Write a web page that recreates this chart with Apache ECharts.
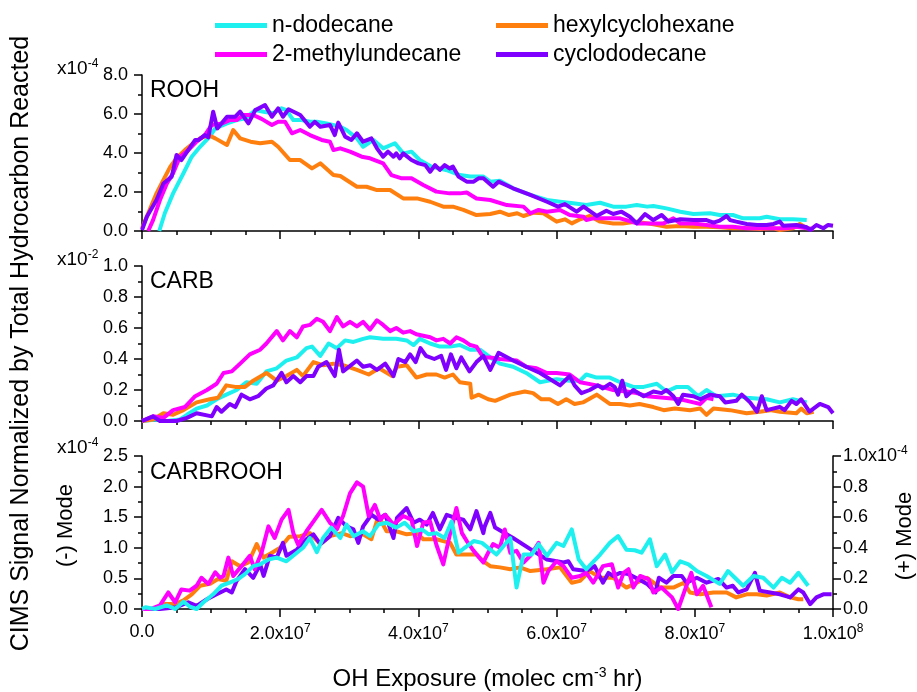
<!DOCTYPE html>
<html>
<head>
<meta charset="utf-8">
<script src="https://cdn.jsdelivr.net/npm/echarts@6/dist/echarts.min.js"></script>
<style>
html, body { margin: 0; padding: 0; background: #fff; }
#chart { width: 917px; height: 692px; }
</style>
</head>
<body>
<div id="chart"></div>
<script>
// x values are OH exposure in units of 1e7 molec cm-3 hr
// ROOH panel (x10^-4)
const roohDodecane = [[0.25,0],[0.33,0.91],[0.45,1.93],[0.6,2.96],[0.72,3.81],[0.84,4.32],[0.98,4.84],[1.06,5.26],[1.23,5.52],[1.37,5.69],[1.5,5.78],[1.64,6.2],[1.76,6.12],[1.9,6.04],[2.02,6.29],[2.09,6.2],[2.19,5.69],[2.31,5.69],[2.43,5.6],[2.53,5.6],[2.67,5.52],[2.87,5.35],[2.96,5.18],[3.11,4.75],[3.2,4.32],[3.35,4.67],[3.49,4.24],[3.66,4.5],[3.78,3.98],[3.9,4.07],[4.02,3.64],[4.19,3.3],[4.4,3.13],[4.6,2.87],[4.75,2.79],[4.94,2.79],[5.04,2.53],[5.18,2.58],[5.37,2.19],[5.62,1.85],[5.86,1.59],[6.05,1.5],[6.24,1.42],[6.43,1.33],[6.63,1.45],[6.82,1.25],[7.01,1.25],[7.16,1.33],[7.31,1.25],[7.4,1.28],[7.59,1.16],[7.79,0.99],[7.98,0.87],[8.22,0.91],[8.36,0.82],[8.55,0.82],[8.7,0.65],[8.94,0.65],[9.04,0.73],[9.23,0.6],[9.42,0.6],[9.62,0.56]];
const roohHexyl = [[0,0.14],[0.09,0.91],[0.21,1.93],[0.31,2.62],[0.41,3.3],[0.5,3.73],[0.62,4.15],[0.74,4.5],[0.84,4.75],[0.96,4.92],[1.06,4.75],[1.23,4.41],[1.32,5.18],[1.42,4.75],[1.57,4.58],[1.71,4.5],[1.88,4.58],[1.97,4.32],[2.14,3.64],[2.29,3.64],[2.46,3.21],[2.58,3.47],[2.77,2.87],[2.87,2.82],[3.11,2.27],[3.25,2.27],[3.4,2.1],[3.59,2.1],[3.78,1.67],[3.98,1.67],[4.17,1.5],[4.36,1.25],[4.5,1.25],[4.65,1.08],[4.84,0.82],[5.04,0.87],[5.18,0.99],[5.31,0.82],[5.43,0.91],[5.52,0.77],[5.67,0.94],[5.81,0.91],[6.0,0.48],[6.12,0.6],[6.22,0.39],[6.34,0.6],[6.48,0.77],[6.63,0.48],[6.82,0.39],[6.96,0.39],[7.16,0.48],[7.4,0.34],[7.59,0.22],[7.79,0.26],[7.98,0.22],[8.17,0.22],[8.36,0.19],[8.55,0.14],[8.75,0.14],[8.94,0.1],[9.14,0.14],[9.23,0.05],[9.42,0.14],[9.52,0.36],[9.62,0.14]];
const roohMethyl = [[0.09,0],[0.16,0.56],[0.26,1.59],[0.36,2.44],[0.45,2.96],[0.55,3.81],[0.67,4.15],[0.79,4.58],[0.91,4.92],[1.01,5.44],[1.16,5.52],[1.27,5.69],[1.37,5.69],[1.47,5.95],[1.61,5.95],[1.73,5.75],[1.88,5.44],[1.97,5.6],[2.07,5.6],[2.17,5.01],[2.29,5.18],[2.43,4.92],[2.6,4.67],[2.72,4.58],[2.77,4.15],[2.87,4.24],[3.01,4.07],[3.18,3.81],[3.3,3.73],[3.49,3.47],[3.61,2.87],[3.76,2.7],[3.9,2.7],[4.07,2.36],[4.26,2.02],[4.45,1.93],[4.6,1.93],[4.7,1.97],[4.84,1.67],[5.04,1.59],[5.28,1.33],[5.52,1.25],[5.62,0.91],[5.74,1.08],[5.86,0.99],[6.05,1.08],[6.19,0.82],[6.39,0.73],[6.43,0.56],[6.53,0.65],[6.72,0.65],[6.92,0.65],[7.01,0.56],[7.16,0.39],[7.31,0.39],[7.55,0.39],[7.69,0.65],[7.79,0.39],[7.98,0.39],[8.17,0.31],[8.36,0.22],[8.55,0.22],[8.75,0.14],[8.94,0.14],[9.14,0.14],[9.33,0.14],[9.47,0.22],[9.62,0.14],[9.72,0.1]];
const roohCyclo = [[0,0.05],[0.07,0.73],[0.21,1.59],[0.31,2.44],[0.43,2.79],[0.5,3.9],[0.57,3.64],[0.77,4.67],[0.82,4.67],[0.91,4.92],[0.96,4.8],[1.03,6.12],[1.09,5.26],[1.23,5.86],[1.35,5.86],[1.42,6.12],[1.54,5.52],[1.64,6.2],[1.69,6.29],[1.78,6.46],[1.8,6.5],[1.88,5.86],[1.97,6.29],[2.04,5.86],[2.12,6.24],[2.29,5.95],[2.43,5.35],[2.5,5.6],[2.58,5.35],[2.72,5.44],[2.79,4.92],[2.84,5.56],[2.94,4.84],[3.03,4.67],[3.11,5.01],[3.2,4.58],[3.32,4.75],[3.4,4.24],[3.49,3.81],[3.56,4.07],[3.64,3.81],[3.68,3.98],[3.73,3.73],[3.78,3.98],[3.9,3.64],[4.0,3.47],[4.1,3.38],[4.17,3.04],[4.24,3.38],[4.31,3.13],[4.38,3.38],[4.45,3.21],[4.5,3.3],[4.58,2.79],[4.7,2.53],[4.8,2.53],[4.87,2.7],[4.94,2.7],[5.08,2.27],[5.16,2.53],[5.37,2.19],[5.62,1.85],[5.86,1.5],[6.02,1.25],[6.12,1.38],[6.29,0.99],[6.39,1.25],[6.58,0.77],[6.72,1.04],[6.82,0.87],[6.94,0.99],[7.06,0.73],[7.16,0.39],[7.28,0.87],[7.4,0.56],[7.52,0.82],[7.62,0.48],[7.79,0.6],[7.98,0.56],[8.17,0.56],[8.27,0.43],[8.36,0.53],[8.46,0.77],[8.51,0.56],[8.6,0.48],[8.75,0.36],[8.9,0.31],[9.04,0.31],[9.14,0.36],[9.23,0.48],[9.28,0.27],[9.47,0.31],[9.62,0.19],[9.67,0.05],[9.76,0.31],[9.86,0.14],[9.93,0.31],[10.0,0.27]];

// CARB panel (x10^-2)
const carbDodecane = [[0,0],[0.21,0.01],[0.36,0],[0.55,0.01],[0.65,0.04],[0.79,0.08],[0.94,0.1],[1.08,0.14],[1.22,0.17],[1.37,0.2],[1.51,0.25],[1.66,0.24],[1.8,0.32],[1.95,0.34],[2.09,0.39],[2.24,0.41],[2.38,0.47],[2.46,0.48],[2.58,0.42],[2.7,0.5],[2.82,0.47],[2.94,0.52],[3.06,0.51],[3.2,0.53],[3.3,0.54],[3.49,0.53],[3.68,0.53],[3.83,0.52],[3.93,0.49],[4.02,0.53],[4.17,0.5],[4.31,0.48],[4.46,0.48],[4.6,0.49],[4.75,0.46],[4.89,0.46],[5.04,0.41],[5.18,0.37],[5.37,0.35],[5.56,0.31],[5.76,0.25],[6.0,0.27],[6.19,0.26],[6.34,0.26],[6.43,0.3],[6.58,0.28],[6.77,0.28],[6.92,0.25],[7.11,0.22],[7.26,0.22],[7.45,0.24],[7.59,0.19],[7.74,0.22],[7.9,0.22],[8.05,0.16],[8.17,0.2],[8.31,0.16],[8.55,0.17],[8.75,0.15],[9.04,0.14],[9.23,0.12],[9.42,0.14],[9.62,0.12]];
const carbHexyl = [[0,0],[0.16,0.01],[0.31,0.05],[0.45,0.04],[0.6,0.07],[0.79,0.12],[0.98,0.14],[1.1,0.15],[1.22,0.23],[1.35,0.22],[1.49,0.22],[1.61,0.26],[1.8,0.31],[1.95,0.26],[2.09,0.29],[2.24,0.33],[2.33,0.29],[2.48,0.38],[2.62,0.36],[2.77,0.37],[2.91,0.36],[3.11,0.33],[3.28,0.3],[3.43,0.34],[3.62,0.29],[3.69,0.35],[3.83,0.36],[3.97,0.28],[4.12,0.3],[4.26,0.3],[4.38,0.28],[4.5,0.3],[4.6,0.25],[4.75,0.24],[4.77,0.15],[4.87,0.17],[5.01,0.14],[5.11,0.13],[5.33,0.17],[5.54,0.19],[5.66,0.18],[5.78,0.14],[5.9,0.14],[6.02,0.11],[6.14,0.14],[6.26,0.11],[6.38,0.12],[6.58,0.17],[6.77,0.11],[6.92,0.11],[7.06,0.1],[7.2,0.11],[7.4,0.09],[7.55,0.07],[7.71,0.08],[7.93,0.07],[8.08,0.08],[8.17,0.04],[8.27,0.08],[8.51,0.07],[8.75,0.05],[8.94,0.06],[9.09,0.07],[9.23,0.06],[9.47,0.05],[9.54,0.08],[9.62,0.05],[9.72,0.06]];
const carbMethyl = [[0,0],[0.16,0.03],[0.31,0.02],[0.45,0.07],[0.62,0.09],[0.77,0.16],[0.94,0.2],[1.08,0.24],[1.18,0.31],[1.3,0.32],[1.42,0.37],[1.56,0.43],[1.71,0.46],[1.8,0.5],[1.95,0.58],[2.04,0.52],[2.14,0.58],[2.24,0.54],[2.33,0.61],[2.43,0.62],[2.53,0.66],[2.62,0.64],[2.72,0.58],[2.82,0.67],[2.91,0.61],[3.01,0.64],[3.11,0.61],[3.2,0.64],[3.3,0.59],[3.4,0.65],[3.49,0.62],[3.59,0.58],[3.68,0.6],[3.78,0.57],[3.88,0.58],[3.97,0.56],[4.07,0.55],[4.17,0.54],[4.26,0.52],[4.36,0.53],[4.46,0.5],[4.55,0.54],[4.65,0.52],[4.75,0.49],[4.84,0.48],[4.94,0.41],[5.04,0.41],[5.18,0.4],[5.42,0.39],[5.56,0.35],[5.71,0.34],[5.86,0.31],[6.0,0.31],[6.19,0.3],[6.34,0.25],[6.58,0.23],[6.82,0.2],[7.01,0.19],[7.16,0.18],[7.31,0.16],[7.55,0.15],[7.79,0.14],[7.98,0.12],[8.08,0.11],[8.17,0.15],[8.27,0.14]];
const carbCyclo = [[0,0],[0.16,0.03],[0.26,0],[0.5,0],[0.65,0.02],[0.79,0.05],[1.01,0.03],[1.08,0.09],[1.15,0.06],[1.27,0.11],[1.35,0.09],[1.44,0.17],[1.56,0.14],[1.68,0.16],[1.8,0.21],[1.9,0.23],[2.02,0.31],[2.09,0.25],[2.19,0.29],[2.29,0.25],[2.38,0.29],[2.48,0.29],[2.55,0.35],[2.67,0.38],[2.79,0.29],[2.85,0.46],[2.91,0.32],[3.11,0.39],[3.2,0.35],[3.3,0.36],[3.4,0.33],[3.52,0.37],[3.64,0.29],[3.71,0.4],[3.81,0.38],[3.88,0.43],[3.96,0.38],[4.03,0.47],[4.11,0.42],[4.23,0.4],[4.33,0.42],[4.4,0.33],[4.47,0.43],[4.55,0.34],[4.62,0.41],[4.74,0.32],[4.84,0.38],[4.94,0.42],[5.04,0.33],[5.16,0.44],[5.37,0.39],[5.56,0.35],[5.76,0.31],[6.05,0.23],[6.19,0.29],[6.26,0.23],[6.36,0.18],[6.48,0.2],[6.6,0.23],[6.67,0.21],[6.77,0.24],[6.84,0.22],[6.89,0.17],[6.95,0.26],[7.01,0.16],[7.11,0.2],[7.26,0.16],[7.4,0.19],[7.52,0.18],[7.59,0.2],[7.69,0.16],[7.76,0.11],[7.83,0.17],[7.98,0.16],[8.08,0.14],[8.22,0.17],[8.36,0.16],[8.44,0.12],[8.6,0.13],[8.68,0.17],[8.8,0.12],[8.9,0.06],[8.97,0.16],[9.04,0.07],[9.23,0.09],[9.3,0.07],[9.4,0.13],[9.47,0.11],[9.54,0.14],[9.66,0.06],[9.81,0.11],[9.93,0.09],[10.0,0.05]];

// CARBROOH panel (left axis, x10^-4)
const crDodecane = [[0,0],[0.05,0.03],[0.19,0],[0.36,0.06],[0.48,0],[0.6,0.12],[0.69,0.04],[0.79,0],[0.89,0.11],[1.03,0.24],[1.15,0.38],[1.27,0.43],[1.39,0.49],[1.49,0.57],[1.61,0.7],[1.71,0.73],[1.83,0.81],[1.95,0.84],[2.09,0.78],[2.21,0.89],[2.33,1.0],[2.43,1.16],[2.53,0.93],[2.62,1.16],[2.74,1.33],[2.87,1.16],[2.96,1.38],[3.06,1.19],[3.2,1.27],[3.3,1.19],[3.42,1.38],[3.54,1.41],[3.68,1.33],[3.8,1.41],[3.93,1.27],[4.05,1.3],[4.15,1.22],[4.26,1.24],[4.38,1.16],[4.48,1.43],[4.58,0.92],[4.67,1.0],[4.8,1.11],[4.92,1.08],[5.13,0.89],[5.33,1.16],[5.42,0.35],[5.52,0.89],[5.64,0.89],[5.74,1.06],[5.86,0.87],[6.0,1.08],[6.1,1.03],[6.22,1.3],[6.32,0.81],[6.43,0.65],[6.63,0.89],[6.77,1.08],[6.89,1.19],[7.01,0.97],[7.13,0.96],[7.23,0.92],[7.35,1.14],[7.45,0.7],[7.57,0.89],[7.67,0.6],[7.79,0.78],[7.91,0.73],[8.03,0.62],[8.17,0.54],[8.36,0.41],[8.48,0.62],[8.58,0.51],[8.7,0.38],[8.85,0.54],[8.99,0.51],[9.14,0.35],[9.26,0.51],[9.38,0.43],[9.5,0.59],[9.64,0.38]];
const crHexyl = [[0,0],[0.21,0],[0.33,0.08],[0.48,0.08],[0.6,0.14],[0.72,0.24],[0.84,0.38],[0.98,0.41],[1.1,0.49],[1.22,0.46],[1.3,0.78],[1.42,0.7],[1.54,0.76],[1.66,1.06],[1.76,0.84],[1.88,0.92],[2.0,1.0],[2.13,1.18],[2.29,1.19],[2.43,1.24],[2.58,1.06],[2.72,1.19],[2.89,1.24],[3.01,1.19],[3.2,1.22],[3.32,1.14],[3.42,1.52],[3.54,1.27],[3.68,1.27],[3.83,1.22],[3.98,1.24],[4.07,1.14],[4.26,1.14],[4.46,1.08],[4.55,0.89],[4.7,0.89],[4.84,0.89],[4.94,0.78],[5.04,0.7],[5.18,0.68],[5.33,0.65],[5.47,0.68],[5.62,0.62],[5.86,0.65],[6.05,0.68],[6.22,0.43],[6.34,0.46],[6.48,0.62],[6.63,0.51],[6.82,0.51],[7.01,0.35],[7.16,0.43],[7.31,0.51],[7.5,0.35],[7.69,0.35],[7.84,0.43],[7.93,0.27],[8.08,0.24],[8.27,0.27],[8.46,0.27],[8.6,0.19],[8.75,0.24],[8.9,0.24],[9.04,0.22],[9.23,0.27],[9.38,0.19],[9.5,0.16],[9.57,0.16]];
const crMethyl = [[0,0],[0.12,0],[0.26,0.06],[0.38,0.27],[0.48,0.11],[0.57,0.32],[0.69,0.3],[0.79,0.38],[0.86,0.51],[0.96,0.41],[1.06,0.6],[1.13,0.51],[1.18,0.54],[1.25,0.84],[1.32,0.54],[1.44,0.7],[1.56,0.87],[1.63,0.65],[1.73,0.92],[1.83,1.35],[1.92,1.16],[2.02,1.46],[2.12,1.62],[2.19,1.24],[2.26,1.05],[2.38,1.27],[2.5,1.46],[2.6,1.62],[2.72,1.41],[2.82,1.3],[2.91,1.52],[3.01,1.89],[3.11,2.07],[3.2,2.0],[3.28,1.52],[3.37,1.7],[3.45,1.46],[3.52,1.54],[3.64,1.38],[3.78,1.52],[3.9,1.46],[3.98,1.03],[4.07,1.41],[4.17,1.43],[4.26,1.05],[4.36,0.73],[4.46,1.24],[4.55,1.65],[4.63,1.24],[4.7,1.11],[4.8,0.95],[4.94,0.76],[5.01,0.92],[5.08,1.06],[5.18,1.0],[5.25,1.3],[5.33,0.92],[5.42,0.95],[5.52,0.76],[5.62,0.87],[5.74,1.08],[5.81,0.43],[5.88,0.62],[6.0,0.78],[6.1,0.7],[6.22,0.51],[6.34,0.54],[6.43,0.59],[6.53,0.43],[6.67,0.7],[6.8,0.73],[6.89,0.35],[6.97,0.59],[7.04,0.65],[7.11,0.35],[7.21,0.54],[7.33,0.49],[7.4,0.27],[7.52,0.35],[7.67,0.19],[7.76,0],[7.86,0.32],[7.95,0.59],[8.03,0.24],[8.12,0.38],[8.24,0.03]];
const crCyclo = [[0,0],[0.26,0],[0.5,0.03],[0.67,0.11],[0.79,0.05],[0.94,0.16],[1.08,0.24],[1.22,0.32],[1.3,0.27],[1.37,0.46],[1.49,0.65],[1.61,0.51],[1.71,0.73],[1.76,0.54],[1.85,0.87],[1.95,0.84],[2.04,1.08],[2.09,0.87],[2.24,0.97],[2.38,1.14],[2.48,1.22],[2.58,1.06],[2.72,1.19],[2.84,1.49],[2.96,1.35],[3.06,1.3],[3.13,1.08],[3.2,1.35],[3.32,1.54],[3.42,1.46],[3.52,1.54],[3.64,1.16],[3.69,1.49],[3.83,1.65],[3.93,1.41],[4.02,1.46],[4.12,1.38],[4.21,1.57],[4.31,1.3],[4.41,1.54],[4.53,1.49],[4.65,1.46],[4.75,1.3],[4.84,1.6],[4.94,1.24],[4.96,1.35],[5.04,1.57],[5.11,1.33],[5.37,1.16],[5.66,0.95],[5.86,0.81],[6.1,0.76],[6.17,0.78],[6.24,0.65],[6.43,0.62],[6.55,0.7],[6.67,0.43],[6.75,0.59],[6.82,0.54],[6.92,0.59],[7.04,0.57],[7.18,0.49],[7.31,0.41],[7.43,0.27],[7.48,0.51],[7.59,0.43],[7.69,0.54],[7.81,0.54],[7.88,0.43],[8.03,0.51],[8.17,0.43],[8.34,0.49],[8.46,0.35],[8.55,0.38],[8.63,0.27],[8.75,0.32],[8.87,0.59],[8.94,0.3],[9.09,0.27],[9.23,0.24],[9.38,0.19],[9.5,0.32],[9.57,0.27],[9.67,0.08],[9.76,0.19],[9.86,0.24],[9.98,0.24]];

const names = ['n-dodecane', 'hexylcyclohexane', '2-methylundecane', 'cyclododecane'];
const colors = ['#1ef0f0', '#ff7f0e', '#ff00ff', '#7f00ff'];

const font = "'Liberation Sans', Arial, Helvetica, sans-serif";
const black = '#000';

let chart = echarts.init(document.getElementById('chart'));

function line(idx, data, xi, yi, z) {
    return {
        name: names[idx],
        type: 'line',
        data: data,
        xAxisIndex: xi,
        yAxisIndex: yi,
        showSymbol: false,
        symbol: 'none',
        z: z,
        color: colors[idx],
        lineStyle: { color: colors[idx], width: 4, join: 'round' }
    };
}

function xAx(i) {
    return {
        type: 'value',
        gridIndex: i,
        min: 0,
        max: 10,
        interval: 2,
        axisLine: { show: true, onZero: false, lineStyle: { color: black, width: 1.5 } },
        axisTick: { show: true, length: 8, lineStyle: { color: black, width: 1.5 } },
        minorTick: { show: true, splitNumber: 4, length: 4, lineStyle: { color: black, width: 1.5 } },
        splitLine: { show: false },
        axisLabel: {
            show: i === 2,
            margin: 14,
            color: black,
            fontFamily: font,
            fontSize: 18,
            formatter: function(v) {
                if (v === 0) return '0.0';
                if (v === 10) return '1.0x10{s|8}';
                return v.toFixed(1) + 'x10{s|7}';
            },
            rich: { s: { fontSize: 12, fontFamily: font, color: black, padding: [0, 0, 10, 0] } }
        }
    };
}

function yAx(i, max, interval, extra) {
    let ax = {
        type: 'value',
        gridIndex: i,
        min: 0,
        max: max,
        interval: interval,
        axisLine: { show: true, onZero: false, lineStyle: { color: black, width: 1.5 } },
        axisTick: { show: true, length: 8, lineStyle: { color: black, width: 1.5 } },
        minorTick: { show: true, splitNumber: 2, length: 4, lineStyle: { color: black, width: 1.5 } },
        splitLine: { show: false },
        axisLabel: {
            margin: 14,
            color: black,
            fontFamily: font,
            fontSize: 18,
            formatter: v => v.toFixed(1)
        }
    };
    return Object.assign(ax, extra || {});
}

function mult(top, exp) {
    return {
        type: 'text',
        left: 57,
        top: top,
        style: {
            text: '{a|x10}{b|' + exp + '}',
            rich: {
                a: { fontSize: 19, fontFamily: font, fill: black },
                b: { fontSize: 12, fontFamily: font, fill: black, padding: [0, 0, 10, 0] }
            }
        }
    };
}

function panelLabel(text, top) {
    return {
        type: 'text',
        left: 150,
        top: top,
        style: { text: text, font: '23px ' + font, fill: black }
    };
}

let legendBase = {
    orient: 'vertical',
    top: 9,
    itemGap: 6,
    itemWidth: 52,
    itemHeight: 5,
    icon: 'rect',
    textStyle: { fontSize: 23, fontFamily: font, color: black }
};

let option = {
    backgroundColor: '#fff',
    animation: false,
    legend: [
        Object.assign({}, legendBase, { left: 210, data: ['n-dodecane', '2-methylundecane'] }),
        Object.assign({}, legendBase, { left: 491, data: ['hexylcyclohexane', 'cyclododecane'] })
    ],
    grid: [
        { left: 142, width: 691, top: 75, height: 156 },
        { left: 142, width: 691, top: 266, height: 155 },
        { left: 142, width: 691, top: 456, height: 154 }
    ],
    xAxis: [
        xAx(0),
        xAx(1),
        Object.assign(xAx(2), {
            name: 'OH Exposure (molec cm{s|-3} hr)',
            nameLocation: 'middle',
            nameGap: 57,
            nameTextStyle: {
                fontSize: 24,
                fontFamily: font,
                color: black,
                rich: { s: { fontSize: 14, fontFamily: font, color: black, padding: [0, 0, 12, 0] } }
            }
        })
    ],
    yAxis: [
        yAx(0, 8, 2),
        yAx(1, 1, 0.2, {
            name: 'CIMS Signal Normalized by Total Hydrocarbon Reacted',
            nameLocation: 'middle',
            nameRotate: 90,
            nameGap: 108,
            nameTextStyle: { fontSize: 25, fontFamily: font, color: black }
        }),
        yAx(2, 2.5, 0.5, {
            name: '(-) Mode',
            nameLocation: 'middle',
            nameRotate: 90,
            nameGap: 65,
            nameTextStyle: { fontSize: 22, fontFamily: font, color: black, padding: [0, 0, 0, 14] }
        }),
        yAx(2, 1, 0.2, {
            position: 'right',
            axisLabel: {
                margin: 10,
                color: black,
                fontFamily: font,
                fontSize: 18,
                align: 'left',
                formatter: v => (v === 1 ? '1.0x10{s|-4}' : v.toFixed(1)),
                rich: { s: { fontSize: 12, fontFamily: font, color: black, padding: [0, 0, 10, 0] } }
            }
        })
    ],
    graphic: [
        panelLabel('ROOH', 79),
        panelLabel('CARB', 270),
        panelLabel('CARBROOH', 461),
        mult(58, '-4'),
        mult(249, '-2'),
        mult(437, '-4'),
        // right-axis title, rotated to read bottom to top
        {
            type: 'text',
            x: 905,
            y: 536,
            rotation: Math.PI / 2,
            style: {
                text: '(+) Mode',
                font: '22px ' + font,
                fill: black,
                align: 'center',
                verticalAlign: 'middle'
            }
        }
    ],
    series: [
        line(0, roohDodecane, 0, 0, 2),
        line(1, roohHexyl, 0, 0, 3),
        line(2, roohMethyl, 0, 0, 4),
        line(3, roohCyclo, 0, 0, 5),

        line(0, carbDodecane, 1, 1, 2),
        line(1, carbHexyl, 1, 1, 3),
        line(2, carbMethyl, 1, 1, 4),
        line(3, carbCyclo, 1, 1, 5),

        line(1, crHexyl, 2, 2, 2),
        line(3, crCyclo, 2, 2, 3),
        line(2, crMethyl, 2, 2, 4),
        line(0, crDodecane, 2, 2, 5)
    ]
};

chart.setOption(option);
window.addEventListener('resize', function() {
    chart.resize();
});
</script>
</body>
</html>
